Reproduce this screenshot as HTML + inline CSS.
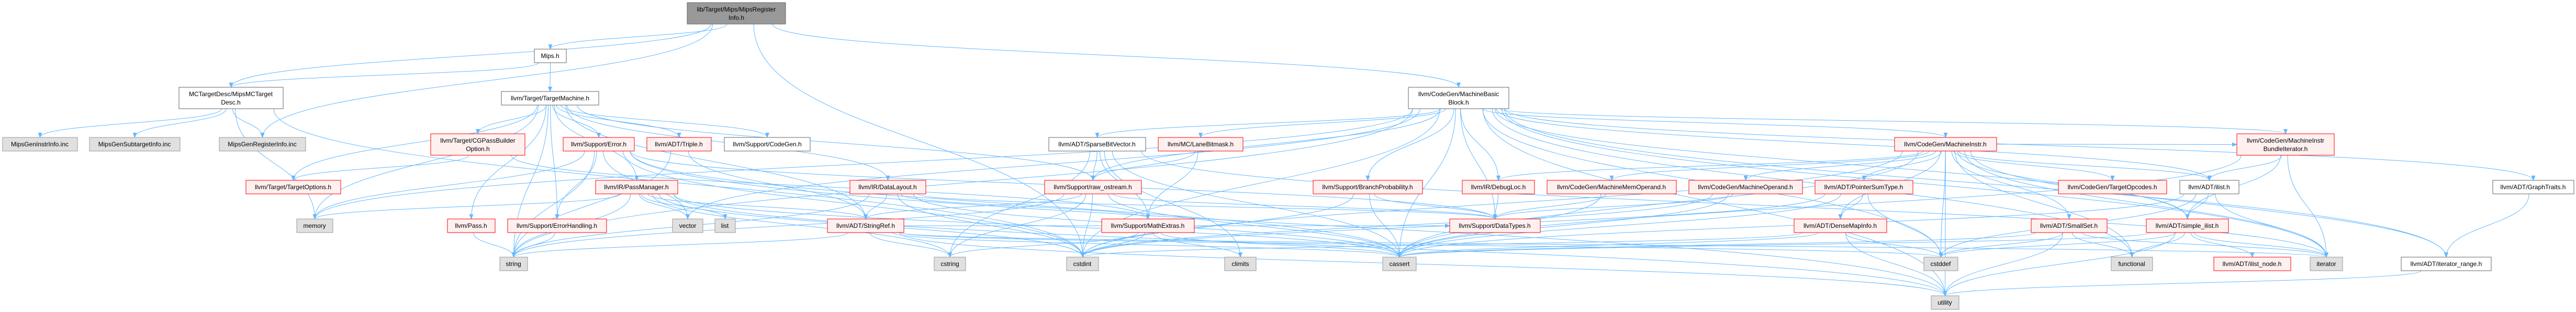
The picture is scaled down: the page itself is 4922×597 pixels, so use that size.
<!DOCTYPE html>
<html><head><meta charset="utf-8"><style>
body{margin:0;background:#fff;width:4922px;height:597px;overflow:hidden}
svg{position:absolute;left:0;top:0}
text{font-family:"Liberation Sans",sans-serif;font-size:12px;text-anchor:middle;fill:#000}
.r{fill:#fff0f0;stroke:#ff0000;stroke-width:1}
.g{fill:#e0e0e0;stroke:#999;stroke-width:1}
.w{fill:#fff;stroke:#666;stroke-width:1}
.t{fill:#999;stroke:#666;stroke-width:1}
</style></head><body>
<svg id="s" width="4922" height="597" xmlns="http://www.w3.org/2000/svg">
<defs><marker id="a" markerWidth="10" markerHeight="8" refX="9" refY="4" orient="auto" markerUnits="userSpaceOnUse"><polygon points="0,0 10,4 0,8" fill="#63b8ff"/></marker></defs>
<g id="edges" fill="none" stroke="#63b8ff" stroke-width="1"></g>
<g id="nodes">
<rect class="t" x="1313" y="5" width="188" height="41"/><text x="1407" y="22">lib/Target/Mips/MipsRegister</text><text x="1407" y="38">Info.h</text>
<rect class="w" x="1021" y="94" width="61" height="26"/><text x="1051" y="111">Mips.h</text>
<rect class="w" x="342" y="167" width="199" height="41"/><text x="441" y="184">MCTargetDesc/MipsMCTarget</text><text x="441" y="200">Desc.h</text>
<rect class="w" x="958" y="175" width="186" height="26"/><text x="1051" y="192">llvm/Target/TargetMachine.h</text>
<rect class="w" x="2691" y="167" width="192" height="41"/><text x="2787" y="184">llvm/CodeGen/MachineBasic</text><text x="2787" y="200">Block.h</text>
<rect class="g" x="5" y="263" width="143" height="26"/><text x="76" y="280">MipsGenInstrInfo.inc</text>
<rect class="g" x="171" y="263" width="173" height="26"/><text x="257" y="280">MipsGenSubtargetInfo.inc</text>
<rect class="g" x="419" y="263" width="165" height="26"/><text x="501" y="280">MipsGenRegisterInfo.inc</text>
<rect class="r" x="823" y="256" width="180" height="41"/><text x="913" y="273">llvm/Target/CGPassBuilder</text><text x="913" y="289">Option.h</text>
<rect class="r" x="1076" y="263" width="136" height="26"/><text x="1144" y="280">llvm/Support/Error.h</text>
<rect class="r" x="1236" y="263" width="123" height="26"/><text x="1297" y="280">llvm/ADT/Triple.h</text>
<rect class="w" x="1384" y="263" width="164" height="26"/><text x="1466" y="280">llvm/Support/CodeGen.h</text>
<rect class="w" x="2004" y="263" width="185" height="26"/><text x="2096" y="280">llvm/ADT/SparseBitVector.h</text>
<rect class="r" x="2213" y="263" width="162" height="26"/><text x="2294" y="280">llvm/MC/LaneBitmask.h</text>
<rect class="r" x="3620" y="263" width="195" height="26"/><text x="3717" y="280">llvm/CodeGen/MachineInstr.h</text>
<rect class="r" x="4274" y="256" width="186" height="41"/><text x="4367" y="273">llvm/CodeGen/MachineInstr</text><text x="4367" y="289">BundleIterator.h</text>
<rect class="r" x="470" y="345" width="181" height="26"/><text x="560" y="362">llvm/Target/TargetOptions.h</text>
<rect class="r" x="1138" y="345" width="157" height="26"/><text x="1216" y="362">llvm/IR/PassManager.h</text>
<rect class="r" x="1624" y="345" width="145" height="26"/><text x="1696" y="362">llvm/IR/DataLayout.h</text>
<rect class="r" x="1996" y="345" width="185" height="26"/><text x="2088" y="362">llvm/Support/raw_ostream.h</text>
<rect class="r" x="2509" y="345" width="209" height="26"/><text x="2613" y="362">llvm/Support/BranchProbability.h</text>
<rect class="r" x="2794" y="345" width="138" height="26"/><text x="2863" y="362">llvm/IR/DebugLoc.h</text>
<rect class="r" x="2956" y="345" width="247" height="26"/><text x="3079" y="362">llvm/CodeGen/MachineMemOperand.h</text>
<rect class="r" x="3227" y="345" width="217" height="26"/><text x="3335" y="362">llvm/CodeGen/MachineOperand.h</text>
<rect class="r" x="3468" y="345" width="187" height="26"/><text x="3561" y="362">llvm/ADT/PointerSumType.h</text>
<rect class="r" x="3933" y="345" width="207" height="26"/><text x="4036" y="362">llvm/CodeGen/TargetOpcodes.h</text>
<rect class="w" x="4165" y="345" width="113" height="26"/><text x="4221" y="362">llvm/ADT/ilist.h</text>
<rect class="w" x="4763" y="345" width="155" height="26"/><text x="4840" y="362">llvm/ADT/GraphTraits.h</text>
<rect class="g" x="567" y="419" width="69" height="26"/><text x="601" y="436">memory</text>
<rect class="r" x="855" y="419" width="91" height="26"/><text x="900" y="436">llvm/Pass.h</text>
<rect class="r" x="970" y="419" width="189" height="26"/><text x="1064" y="436">llvm/Support/ErrorHandling.h</text>
<rect class="g" x="1285" y="419" width="58" height="26"/><text x="1314" y="436">vector</text>
<rect class="g" x="1366" y="419" width="39" height="26"/><text x="1385" y="436">list</text>
<rect class="r" x="1581" y="419" width="146" height="26"/><text x="1654" y="436">llvm/ADT/StringRef.h</text>
<rect class="r" x="2105" y="419" width="177" height="26"/><text x="2193" y="436">llvm/Support/MathExtras.h</text>
<rect class="r" x="2770" y="419" width="173" height="26"/><text x="2856" y="436">llvm/Support/DataTypes.h</text>
<rect class="r" x="3428" y="419" width="177" height="26"/><text x="3516" y="436">llvm/ADT/DenseMapInfo.h</text>
<rect class="r" x="3881" y="419" width="145" height="26"/><text x="3953" y="436">llvm/ADT/SmallSet.h</text>
<rect class="r" x="4101" y="419" width="157" height="26"/><text x="4179" y="436">llvm/ADT/simple_ilist.h</text>
<rect class="g" x="955" y="492" width="53" height="26"/><text x="981" y="509">string</text>
<rect class="g" x="1785" y="492" width="60" height="26"/><text x="1815" y="509">cstring</text>
<rect class="g" x="2038" y="492" width="61" height="26"/><text x="2068" y="509">cstdint</text>
<rect class="g" x="2340" y="492" width="60" height="26"/><text x="2370" y="509">climits</text>
<rect class="g" x="2642" y="492" width="64" height="26"/><text x="2674" y="509">cassert</text>
<rect class="g" x="3676" y="492" width="65" height="26"/><text x="3708" y="509">cstddef</text>
<rect class="g" x="4034" y="492" width="79" height="26"/><text x="4073" y="509">functional</text>
<rect class="r" x="4230" y="492" width="147" height="26"/><text x="4303" y="509">llvm/ADT/ilist_node.h</text>
<rect class="g" x="4414" y="492" width="62" height="26"/><text x="4445" y="509">iterator</text>
<rect class="w" x="4588" y="492" width="172" height="26"/><text x="4674" y="509">llvm/ADT/iterator_range.h</text>
<rect class="g" x="3690" y="566" width="53" height="26"/><text x="3716" y="583">utility</text>
</g>
</svg>
<script>
var N={top:[1313,1501,5,46],Mips:[1021,1082,94,120],MCTD:[342,541,167,208],TM:[958,1144,175,201],MBB:[2691,2883,167,208],
GI:[5,148,263,289],GS:[171,344,263,289],GR:[419,584,263,289],CG:[823,1003,256,297],Err:[1076,1212,263,289],Tri:[1236,1359,263,289],
CGen:[1384,1548,263,289],SBV:[2004,2189,263,289],LB:[2213,2375,263,289],MI:[3620,3815,263,289],MIBI:[4274,4460,256,297],
TO:[470,651,345,371],PM:[1138,1295,345,371],DL:[1624,1769,345,371],RO:[1996,2181,345,371],BP:[2509,2718,345,371],DLoc:[2794,2932,345,371],
MMO:[2956,3203,345,371],MO:[3227,3444,345,371],PST:[3468,3655,345,371],TOp:[3933,4140,345,371],il:[4165,4278,345,371],GT:[4763,4918,345,371],
mem:[567,636,419,445],Pass:[855,946,419,445],EH:[970,1159,419,445],vec:[1285,1343,419,445],list:[1366,1405,419,445],SR:[1581,1727,419,445],
ME:[2105,2282,419,445],DT:[2770,2943,419,445],DMI:[3428,3605,419,445],SS:[3881,4026,419,445],sil:[4101,4258,419,445],
str:[955,1008,492,518],cstr:[1785,1845,492,518],cint:[2038,2099,492,518],clim:[2340,2400,492,518],cas:[2642,2706,492,518],
cdef:[3676,3741,492,518],fun:[4034,4113,492,518],iln:[4230,4377,492,518],it:[4414,4476,492,518],itr:[4588,4760,492,518],util:[3690,3743,566,592]};
var E="top>Mips top>MCTD top>GR top>MBB top>cint Mips>TM Mips>MCTD MCTD>GI MCTD>GS MCTD>GR MCTD>mem MCTD>cint "+
"TM>CG TM>Err TM>Tri TM>CGen TM>DL TM>PM TM>Pass TM>TO TM>mem TM>str TM>SR TM>RO TM>EH "+
"CG>TO CG>ME Err>EH Err>str Err>mem Err>vec Err>cas Err>cint Err>DT Err>util Tri>SR Tri>str "+
"PM>vec PM>list PM>str PM>cas PM>cint PM>util PM>mem PM>SR PM>cstr Pass>str EH>str "+
"DL>SR DL>cas DL>cint DL>str DL>ME DL>DT SR>str SR>cstr SR>cdef SR>cas SR>util SR>it SR>DT "+
"RO>SR RO>cstr RO>cint RO>cas RO>str RO>DT SBV>RO SBV>ME SBV>clim SBV>cas SBV>cstr SBV>it LB>RO LB>ME "+
"ME>cstr ME>cint ME>clim ME>cas ME>DT MBB>SBV MBB>LB MBB>MI MBB>BP MBB>DLoc MBB>DT MBB>cas MBB>MIBI MBB>il MBB>GT "+
"MBB>itr MBB>it MBB>sil MBB>fun MBB>util MBB>cint MBB>str MBB>vec MBB>RO MBB>cdef MBB>mem BP>DT BP>cas BP>cint DLoc>DT "+
"MMO>DT MMO>cas MI>MMO MI>MO MI>PST MI>DMI MI>TOp MI>SS MI>cdef MI>util MI>cint MI>cas MI>DLoc MI>il MI>itr MI>MIBI MI>fun MI>it MI>sil "+
"MO>DT MO>cas MO>cint PST>DMI PST>cas PST>cdef PST>cint DMI>cdef DMI>util DMI>cas DMI>cint SS>cdef SS>util SS>fun SS>it SS>cas "+
"il>sil il>it il>cas il>cdef MIBI>il MIBI>sil MIBI>it MIBI>cas sil>iln sil>it sil>fun sil>cdef sil>cas sil>util itr>util GT>itr";
var g=document.getElementById("edges"),h="";
E.split(" ").forEach(function(e){var p=e.split(">"),a=N[p[0]],b=N[p[1]];if(!a||!b)return;
var sx=(a[0]+a[1])/2,sy=a[3],tx=(b[0]+b[1])/2,ty=b[2],d;
if(b[2]>=a[3]-2){var dx=tx-sx;sx=Math.max(a[0]+8,Math.min(a[1]-8,sx+dx*0.05));
var dy=ty-sy;d="M"+sx+","+sy+" C"+sx+","+(sy+dy*0.5)+" "+tx+","+(ty-dy*0.5)+" "+tx+","+ty;}
else{sy=(a[2]+a[3])/2;sx=tx>sx?a[1]:a[0];tx=(sx>tx)?b[1]:b[0];ty=(b[2]+b[3])/2;d="M"+sx+","+sy+" L"+tx+","+ty;}
h+='<path d="'+d+'" marker-end="url(#a)"/>';});
g.innerHTML=h;
</script>
</body></html>
